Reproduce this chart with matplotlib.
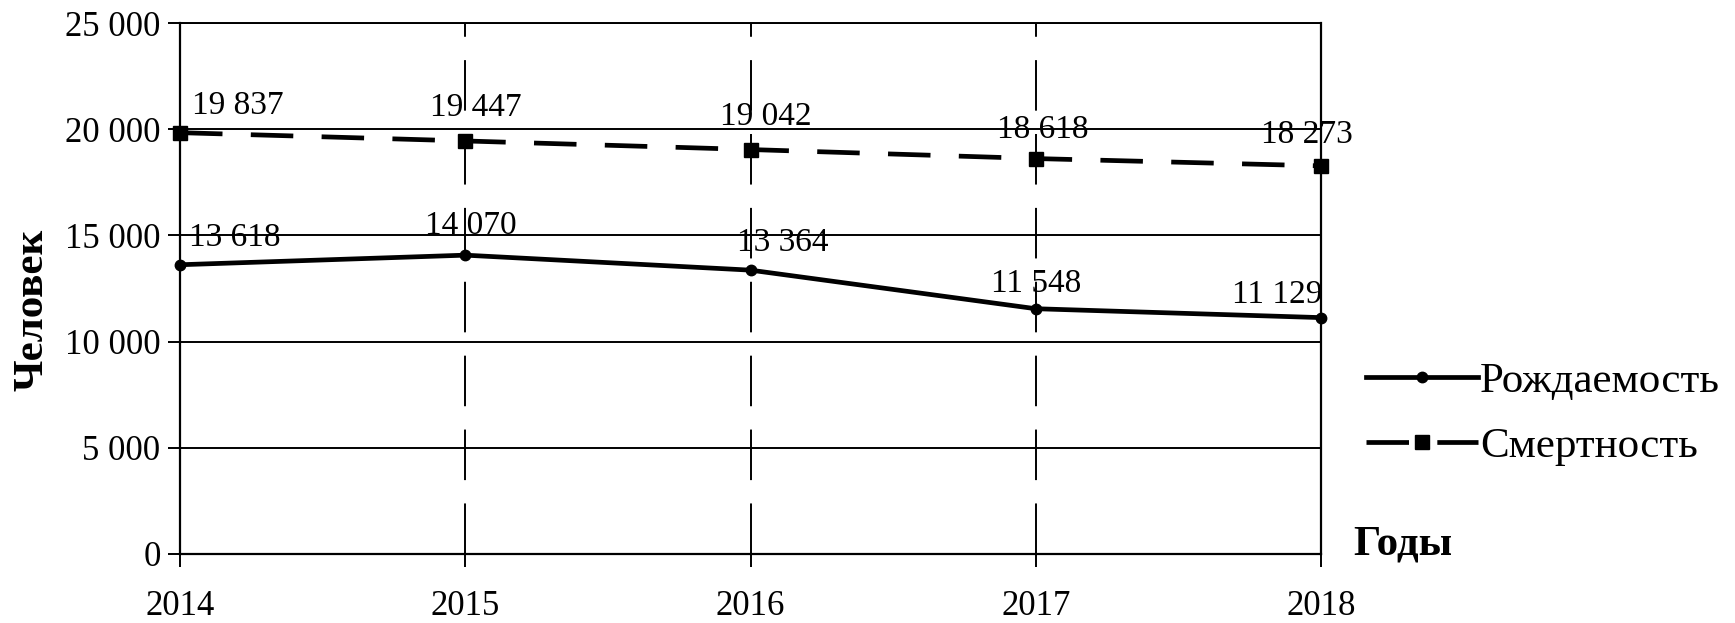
import numpy as np
from matplotlib import pyplot as plt
from matplotlib.ticker import FuncFormatter

plt.rcParams['font.family'] = ['Liberation Serif', 'DejaVu Serif']

years = [2014, 2015, 2016, 2017, 2018]
births = [13618, 14070, 13364, 11548, 11129]
deaths = [19837, 19447, 19042, 18618, 18273]
labels_births = ["13 618", "14 070", "13 364", "11 548", "11 129"]
labels_deaths = ["19 837", "19 447", "19 042", "18 618", "18 273"]

# label offsets in pixels (dx, dy)
off_births = [(55, 27), (6, 29), (32, 27), (0, 25), (-44, 23)]
off_deaths = [(58, 27), (11, 33), (15, 33), (7, 29), (-14, 31)]


def fmt_thousands(v, pos):
    return "{:,.0f}".format(v).replace(",", " ")


def main():
    fig = plt.figure(figsize=(17.35, 6.23), dpi=100)
    ax = fig.add_axes([180/1735, 1-554/623, (1321-180)/1735, (554-23)/623])

    ax.set_xlim(2014, 2018)
    ax.set_ylim(0, 25000)
    ax.set_xticks(years)
    ax.set_yticks(np.arange(0, 25001, 5000))
    ax.yaxis.set_major_formatter(FuncFormatter(fmt_thousands))

    for y in range(5000, 25001, 5000):
        ax.axhline(y, color="black", lw=1.4, zorder=1)
    for x in years[1:-1]:
        ax.axvline(x, color="black", lw=1.4, dashes=(26, 12), zorder=1)

    ax.plot(years, births, color="black", lw=3.4, marker="o", ms=7.5,
            label="Рождаемость", zorder=3, clip_on=False)
    ax.plot(years, deaths, color="black", lw=3.4, marker="s", ms=10,
            dashes=(9, 6), label="Смертность", zorder=3, clip_on=False)

    for x, y, t, (dx, dy) in zip(years, births, labels_births, off_births):
        ax.annotate(t, (x, y), xytext=(dx, dy), textcoords="offset pixels",
                    ha="center", va="center", fontsize=24)
    for x, y, t, (dx, dy) in zip(years, deaths, labels_deaths, off_deaths):
        ax.annotate(t, (x, y), xytext=(dx, dy), textcoords="offset pixels",
                    ha="center", va="center", fontsize=24)

    for s in ax.spines.values():
        s.set_linewidth(1.6)
    ax.spines["top"].set_linewidth(1.4)

    ax.tick_params(axis="both", direction="out", length=9, width=1.4,
                   labelsize=25, colors="black")
    ax.tick_params(axis="x", pad=17)
    ax.tick_params(axis="y", pad=5)

    ax.set_ylabel("Человек", fontsize=31, fontweight="bold")
    ax.yaxis.set_label_coords(-128/1141, 0.46)
    fig.text(1403/1735, 1-545/623, "Годы", fontsize=31, fontweight="bold",
             ha="center", va="center")

    fig.legend(loc="center left", bbox_to_anchor=(1366/1735, 1-414/623),
               frameon=False, fontsize=31, handlelength=2.6,
               handletextpad=0.05, labelspacing=0.6,
               borderpad=0, borderaxespad=0)

    fig.savefig("out.png", dpi=100)


if __name__ == "__main__":
    main()
